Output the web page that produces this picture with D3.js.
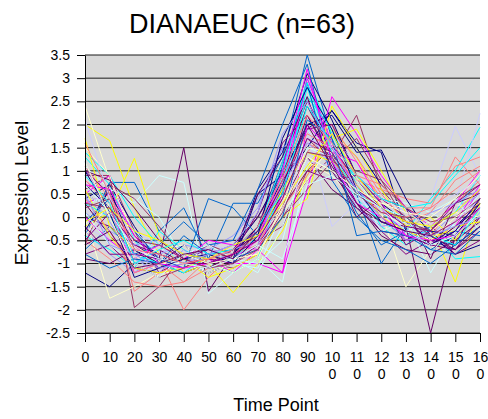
<!DOCTYPE html>
<html>
<head>
<meta charset="utf-8">
<script src="https://cdn.jsdelivr.net/npm/d3@7"></script>
<style>
  html, body { margin: 0; padding: 0; background: #fff; }
  svg { display: block; font-family: "Liberation Sans", Arial, sans-serif; }
</style>
</head>
<body>
<svg id="chart" width="488" height="419"></svg>
<script>
// Time points (minutes) and tick values
const timePoints = [0, 10, 20, 30, 40, 50, 60, 70, 80, 90, 100, 110, 120, 130, 140, 150, 160];
const yTicks = [-2.5, -2, -1.5, -1, -0.5, 0, 0.5, 1, 1.5, 2, 2.5, 3, 3.5];

// Line colours, cycled through the profiles
const palette = ["#000080", "#FF00FF", "#FFFF00", "#00FFFF", "#800080", "#9999FF", "#993366",
                 "#FFFFCC", "#CCFFFF", "#660066", "#FF8080", "#0066CC", "#CCCCFF"];

// Expression profiles of the 63 genes in the cluster
const profiles = [
  [-1.2,-1.5,-1.0,-0.9,-1.1,-0.8,-0.7,0.0,1.0,1.9,2.3,1.6,1.4,-0.3,-0.6,-0.2,0.3],
  [0.3,0.5,-0.8,-1.0,-0.9,-1.1,-0.9,-0.5,0.8,2.9,1.5,0.6,0.1,-0.3,-0.5,-0.2,0.6],
  [2.0,1.65,0.2,-0.8,-1.0,-1.1,-0.9,-0.7,0.2,1.0,1.9,1.3,0.3,-0.1,-0.4,-0.3,0.1],
  [1.3,0.7,-0.5,-1.1,-0.8,-1.0,-0.8,-0.6,0.6,2.8,1.2,0.4,-0.1,-0.4,-0.3,-0.9,-0.85],
  [0.5,0.2,-0.9,-0.7,-1.0,-0.8,-0.9,-0.2,1.2,2.5,1.6,0.7,0.0,-0.5,-0.2,-0.6,0.4],
  [0.1,-0.3,-0.6,-0.8,-0.6,-0.7,-0.4,0.2,1.5,2.0,1.4,0.8,0.3,-0.2,-0.4,0.1,0.5],
  [0.6,0.9,-0.3,-1.2,-0.9,-1.0,-1.1,-0.8,0.0,0.8,1.3,2.2,0.6,0.0,-0.6,-0.3,0.2],
  [2.4,0.8,-0.4,-1.3,-1.0,-0.9,-0.8,-0.6,0.4,1.6,1.2,0.5,0.1,-1.5,-0.7,-0.2,0.2],
  [0.2,0.6,0.3,0.9,0.75,-1.65,-1.2,-0.9,-1.4,1.1,1.6,0.9,0.4,0.3,0.1,-0.2,0.0],
  [0.0,-0.2,-0.6,-0.9,1.5,-1.6,-0.8,-0.5,0.3,1.3,0.6,0.2,-0.1,-0.2,-2.5,-0.4,0.0],
  [1.1,0.4,-0.7,-0.9,-2.0,-1.3,-0.8,-0.6,0.5,1.4,2.0,1.2,0.4,0.0,-0.4,0.3,0.8],
  [-0.4,0.75,0.75,-0.3,0.2,-0.9,0.3,0.3,1.3,3.5,1.7,0.5,-1.0,-0.2,-0.5,-0.3,-0.4],
  [0.9,0.3,-0.5,-0.7,-0.8,-0.6,-0.7,-0.3,0.9,1.8,-0.2,0.3,0.2,0.1,0.4,1.96,0.9],
  [0.4,0.7,-0.2,-1.0,-1.2,-1.0,-0.9,0.6,1.4,3.1,2.1,0.9,0.3,-0.1,-0.5,-0.6,-0.2],
  [0.8,0.3,-1.2,-1.0,-0.8,-0.9,-1.0,-1.0,-1.2,0.6,2.6,1.8,0.9,0.2,-0.2,0.3,1.0],
  [-0.2,0.1,1.27,-0.4,-1.2,-1.0,-1.63,-1.0,-0.3,0.9,1.7,1.9,1.0,0.1,-0.2,-1.4,0.3],
  [1.4,0.9,0.0,-0.6,-1.0,-1.1,-0.9,-0.4,0.9,3.0,1.8,0.8,0.1,-0.3,0.4,1.0,1.94],
  [-0.8,-0.6,-1.1,-1.2,-0.9,-0.7,-0.8,0.1,1.6,2.2,1.3,0.3,-0.3,-0.8,-0.5,-0.7,-0.3],
  [-0.3,-0.8,-1.2,-0.8,-1.0,-0.6,-0.5,0.4,1.5,1.9,1.0,0.5,0.0,-0.4,-0.6,-0.1,0.4],
  [0.9,0.9,-1.95,-1.5,-0.8,-1.0,-0.7,-0.5,-0.2,1.0,1.5,0.8,0.2,-0.1,-0.3,0.2,0.5],
  [0.0,-1.75,-1.5,-1.2,-1.0,-0.8,-0.9,-0.8,0.2,1.2,0.9,0.3,0.0,-0.3,-0.1,0.2,0.6],
  [1.1,0.6,0.4,0.0,-0.9,-1.2,-1.0,-1.1,0.1,1.9,1.1,0.4,0.5,0.0,-1.2,-0.3,0.1],
  [0.3,-0.4,-0.9,-1.0,-1.1,-0.8,-0.6,0.0,0.9,2.4,1.4,0.3,-0.4,-0.7,-0.8,-0.5,-0.1],
  [-0.5,-0.9,-1.4,-1.5,-1.4,-1.1,-0.9,-0.6,0.4,1.6,1.3,0.8,0.6,0.4,0.3,1.1,1.3],
  [-0.7,-0.2,-0.8,-0.6,-0.1,-0.6,-0.5,0.6,2.0,3.3,1.2,0.1,-0.6,-0.3,-0.7,-0.4,0.1],
  [0.2,-0.4,-0.7,-1.0,-0.9,-0.8,-0.6,-0.4,0.6,1.6,1.8,1.1,0.5,0.1,0.0,0.3,2.24],
  [0.7,0.2,-0.5,-0.8,-1.0,-1.2,-1.0,0.5,0.9,2.0,2.2,1.4,1.45,0.4,-0.4,-0.8,-0.6],
  [0.5,0.9,-0.6,-1.1,-1.0,-0.9,-1.2,-0.7,0.5,3.0,1.6,0.6,0.2,-0.5,-0.4,-0.1,0.7],
  [1.7,-0.2,-0.7,-1.0,-0.9,-1.3,-1.1,-0.8,0.0,0.4,2.4,1.5,0.6,-0.2,0.0,-0.5,0.4],
  [-0.4,-0.7,-1.1,-0.3,-0.7,-1.0,-1.2,-0.9,0.7,2.6,1.9,0.7,-0.2,-0.6,-0.2,0.1,0.9],
  [1.0,0.5,-0.4,-0.9,-1.1,-0.9,-0.7,-0.3,0.6,1.9,2.0,0.9,0.4,0.0,-0.6,-0.7,0.0],
  [1.2,-0.1,-0.9,-1.2,-0.7,-1.1,-1.0,-0.6,1.0,1.4,1.3,0.2,-0.2,-0.1,-0.4,-0.2,0.2],
  [-0.6,0.7,0.4,-0.2,-0.9,-0.6,-0.8,-0.3,0.2,1.7,1.2,1.0,0.8,-0.1,-0.3,0.4,0.7],
  [1.5,0.9,-0.6,-1.0,-1.0,-1.2,-1.0,-0.7,0.1,0.8,1.6,0.9,0.3,0.2,-0.3,0.1,0.0],
  [0.5,0.2,-0.3,-0.8,-1.1,-1.0,-0.9,-1.2,-0.2,1.3,1.0,0.6,-0.3,-0.1,0.1,0.4,-0.3],
  [-0.9,-1.0,-0.7,-1.1,-0.8,-0.9,-0.7,-0.4,0.5,2.2,1.2,0.0,0.4,0.2,-0.9,0.3,0.5],
  [0.8,0.3,-1.6,-1.2,-1.0,-1.1,-0.9,-0.7,0.2,0.9,1.8,1.3,0.5,-0.1,0.1,0.8,1.1],
  [-0.1,0.4,-0.3,-0.9,-1.1,0.4,0.2,-0.4,1.1,2.9,0.8,0.0,-0.5,-0.7,-1.0,-0.6,-0.2],
  [-0.2,-0.5,-1.0,-0.9,-1.2,-0.7,-0.8,-0.5,0.3,1.2,1.1,0.4,0.1,0.0,0.2,0.5,0.8],
  [-0.3,0.6,-0.7,-1.0,-0.6,-1.0,-0.8,-0.2,0.8,1.5,2.3,1.5,0.7,0.2,-0.3,-0.4,0.3],
  [0.0,-0.5,-0.9,-0.6,-0.9,-0.5,-0.6,-0.7,-1.2,2.0,1.4,1.2,0.3,-0.4,-0.6,-0.3,0.4],
  [0.6,-0.4,-1.1,-1.2,-1.1,-0.9,-0.8,-0.5,0.6,1.4,1.2,0.7,0.0,-0.3,-0.5,-0.2,-0.1],
  [0.3,0.0,-0.8,-1.0,-1.2,-0.8,-0.9,-0.3,1.2,2.9,1.4,0.5,0.2,0.0,-0.4,-0.6,0.2],
  [-0.5,0.1,-0.6,-0.8,-1.0,-0.9,-1.0,-0.6,0.2,1.0,0.8,0.9,0.3,-0.6,-0.3,-0.8,-0.5],
  [0.4,0.0,-0.6,-0.5,-0.8,-0.9,-0.7,-0.5,0.7,1.6,1.2,0.6,0.2,-0.3,0.1,0.3,0.6],
  [0.2,0.4,-1.0,-1.3,-1.1,-0.8,-0.9,-0.6,0.0,0.6,1.2,1.7,0.8,0.2,-0.1,0.0,0.4],
  [-0.4,0.3,-0.9,-0.7,-0.6,-1.0,-1.2,-0.9,0.3,1.5,1.4,0.8,0.1,-0.2,-0.5,0.0,0.3],
  [0.1,-0.6,-1.0,-1.3,-0.8,-0.6,-0.9,-1.0,-0.5,1.5,1.3,0.7,0.2,0.0,-0.8,-0.1,0.5],
  [1.0,0.8,0.2,-0.5,-0.9,-1.1,-0.8,0.5,1.3,2.6,1.0,0.2,-0.3,-0.4,-0.6,-0.2,0.2],
  [0.4,-0.3,-1.2,-1.0,-1.4,-0.9,-0.8,-0.4,0.8,1.8,1.5,0.7,0.1,0.0,0.2,1.3,0.7],
  [-0.8,-1.1,-0.9,-1.0,-0.4,-0.8,-0.9,-0.7,0.0,2.1,1.7,-0.4,-0.3,-0.4,-0.7,-0.8,-0.3],
  [2.1,0.4,-0.3,-0.6,-1.0,-0.8,-0.9,-0.6,0.1,1.7,1.5,0.9,0.4,0.1,-0.2,0.2,0.5],
  [1.0,0.1,-1.3,-1.1,-0.9,-0.8,-1.0,-0.4,1.7,2.8,1.9,0.6,-0.1,-0.3,-0.6,-0.3,0.4],
  [0.7,0.6,-0.4,-1.0,-1.1,-1.0,-0.8,-0.5,1.0,3.2,1.2,0.3,0.0,-0.4,-0.5,-0.4,0.2],
  [-0.1,0.2,-0.3,-0.5,-0.8,-0.9,-0.6,-0.4,0.3,1.1,1.8,0.9,0.2,-0.1,-0.2,0.1,0.6],
  [0.9,0.3,-1.0,-0.7,-0.5,-0.8,-0.7,-0.2,0.5,2.4,1.6,0.9,0.4,0.2,0.3,0.9,1.5],
  [-0.2,-0.8,-0.8,-0.9,-1.0,-1.0,-0.8,-0.5,0.4,1.7,1.4,0.6,0.2,-0.2,-0.3,0.3,0.7],
  [0.5,-0.6,-0.8,-1.1,-1.0,-0.8,-0.6,0.1,1.8,2.5,1.5,0.6,0.0,-0.5,-0.4,-0.2,0.0],
  [0.3,0.2,-0.5,-0.6,-0.9,-1.1,-1.0,-0.7,0.1,1.4,1.3,0.5,0.1,0.0,-0.4,-0.1,0.3],
  [1.2,0.0,-1.1,-1.0,-0.8,-1.0,-0.9,-0.8,0.2,1.3,1.0,0.6,0.3,0.1,0.0,0.4,0.9],
  [0.7,0.1,-0.7,-0.9,-1.0,-1.1,-0.9,-0.6,-0.9,0.7,0.9,0.5,0.2,-0.3,-0.6,-0.4,0.1],
  [-0.6,-0.3,-1.1,-1.0,-0.8,-0.7,-0.9,-0.3,0.7,2.0,1.1,0.3,-0.1,-0.3,-0.4,-0.7,-0.2],
  [1.6,0.5,-0.7,-0.8,-1.0,-0.9,-0.7,-0.2,0.9,2.2,1.6,0.9,0.7,0.2,0.2,0.6,1.0]
];

const svg = d3.select("#chart");
const plot = { left: 85, right: 480, top: 55, bottom: 333 };

const x = d3.scaleLinear().domain([0, 160]).range([plot.left, plot.right]);
const y = d3.scaleLinear().domain([-2.5, 3.5]).range([plot.bottom, plot.top]);

// Plot background
svg.append("rect")
  .attr("x", plot.left).attr("y", plot.top)
  .attr("width", plot.right - plot.left).attr("height", plot.bottom - plot.top)
  .attr("fill", "#d9d9d9");

// Horizontal gridlines
svg.append("g").selectAll("line").data(yTicks).join("line")
  .attr("x1", plot.left).attr("x2", plot.right)
  .attr("y1", d => y(d)).attr("y2", d => y(d))
  .attr("stroke", "#1a1a1a").attr("stroke-width", 1);

// Expression profiles
const line = d3.line().x((d, i) => x(timePoints[i])).y(d => y(d));
svg.append("g").selectAll("path").data(profiles).join("path")
  .attr("d", line)
  .attr("fill", "none")
  .attr("stroke", (d, i) => palette[i % palette.length])
  .attr("stroke-width", 1)
  .attr("stroke-linejoin", "miter");

// Y axis
const yAxis = svg.append("g")
  .attr("transform", `translate(${plot.left},0)`)
  .call(d3.axisLeft(y).tickValues(yTicks).tickFormat(d => String(d))
    .tickSize(8).tickSizeOuter(0).tickPadding(7));
yAxis.selectAll("text").attr("font-size", 14).attr("fill", "#000")
  .attr("font-family", "Liberation Sans, Arial, sans-serif");
yAxis.selectAll("line, path").attr("stroke", "#000");

// X axis, three-digit labels wrap onto a second line
const xAxis = svg.append("g")
  .attr("transform", `translate(0,${plot.bottom})`)
  .call(d3.axisBottom(x).tickValues(timePoints).tickFormat("")
    .tickSize(9).tickSizeOuter(0));
xAxis.selectAll("line, path").attr("stroke", "#000");
xAxis.selectAll(".tick").each(function (d) {
  const s = String(d);
  const parts = s.length > 2 ? [s.slice(0, 2), s.slice(2)] : [s];
  const t = d3.select(this).append("text")
    .attr("font-size", 14).attr("fill", "#000")
    .attr("font-family", "Liberation Sans, Arial, sans-serif")
    .attr("text-anchor", "middle");
  parts.forEach((p, k) => {
    t.append("tspan").attr("x", 0).attr("y", 29 + k * 16.5).text(p);
  });
});

// Titles
svg.append("text")
  .attr("x", 242).attr("y", 33)
  .attr("text-anchor", "middle")
  .attr("font-size", 27)
  .text("DIANAEUC (n=63)");

svg.append("text")
  .attr("transform", "translate(28,193) rotate(-90)")
  .attr("text-anchor", "middle")
  .attr("font-size", 19)
  .text("Expression Level");

svg.append("text")
  .attr("x", 276).attr("y", 411)
  .attr("text-anchor", "middle")
  .attr("font-size", 18)
  .text("Time Point");
</script>
</body>
</html>
